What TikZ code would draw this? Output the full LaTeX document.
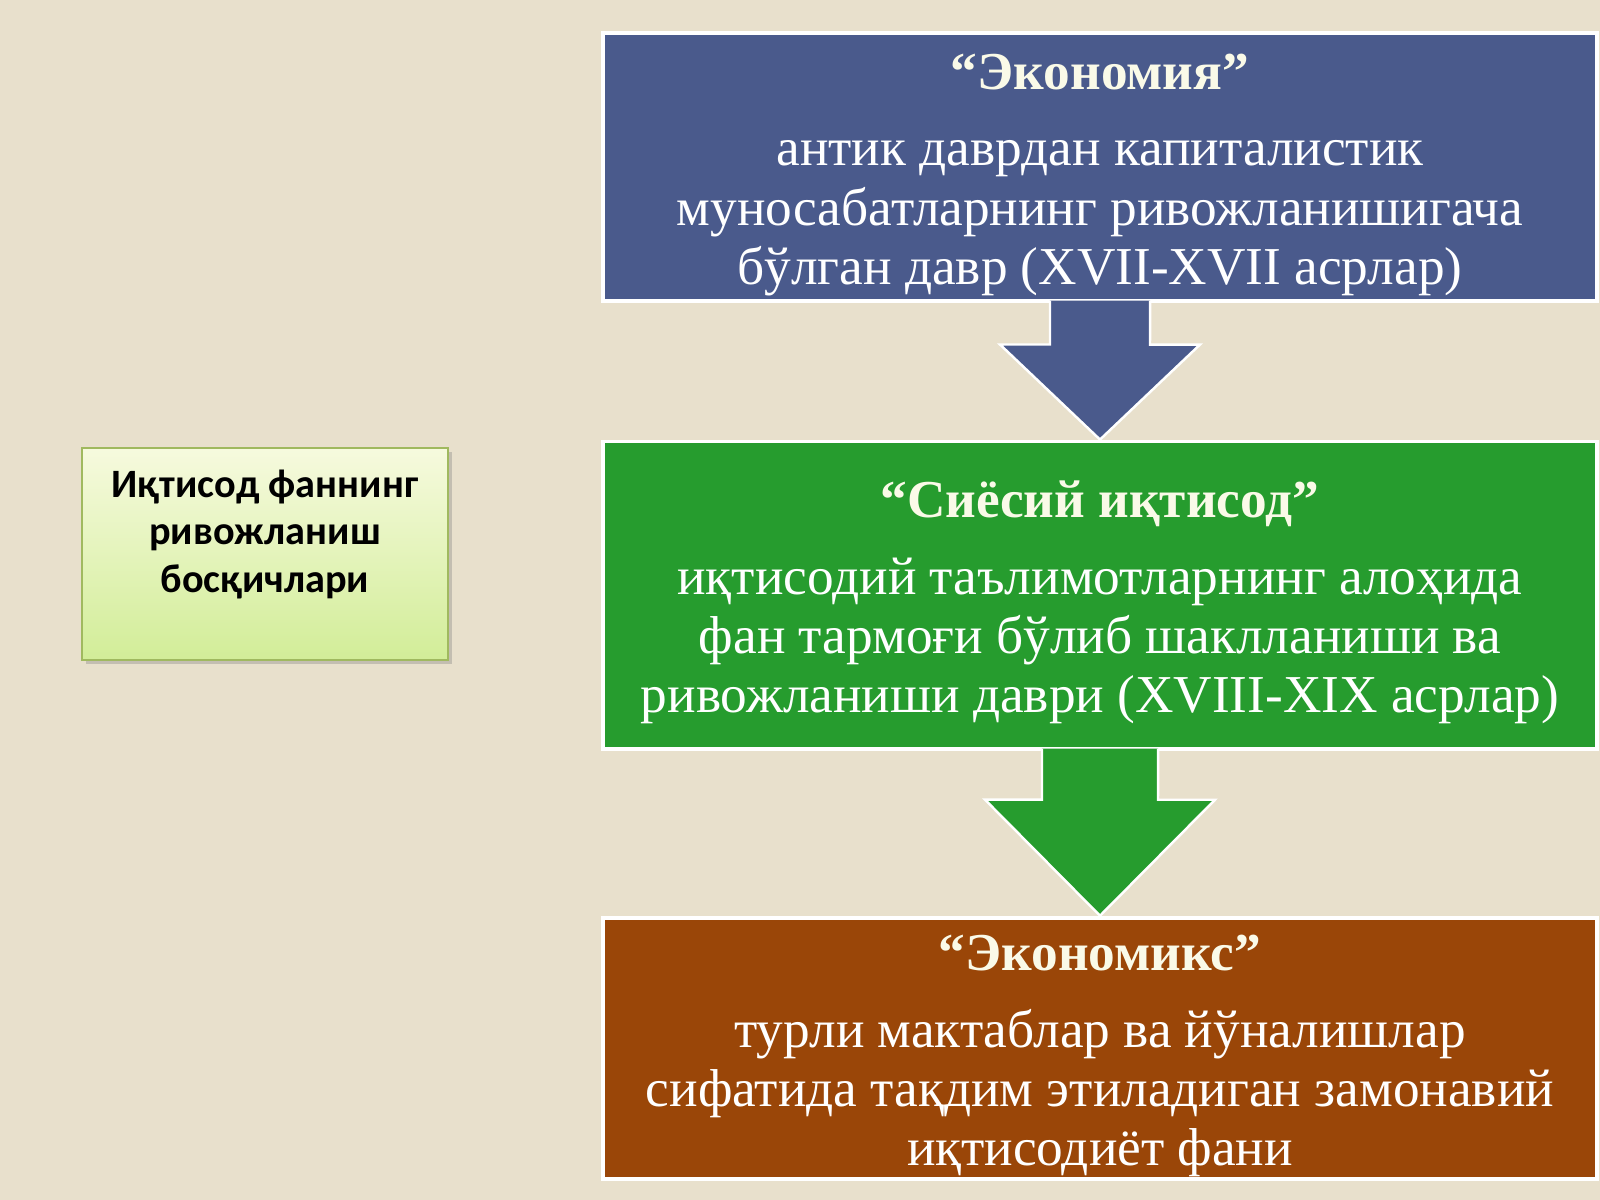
\documentclass[tikz,border=0pt]{standalone}
\usepackage{fontspec}
\setmainfont{Liberation Serif}
\newfontfamily\calibri{Carlito}
\usepackage{xcolor}
\usetikzlibrary{arrows,shapes,positioning,shadows}
\definecolor{paper}{RGB}{232,224,204}
\definecolor{ecoblue}{RGB}{74,90,140}
\definecolor{ecogreen}{RGB}{38,156,46}
\definecolor{ecobrown}{RGB}{154,70,8}
\definecolor{titlecream}{RGB}{250,250,232}
\definecolor{leafedge}{RGB}{160,185,95}
\definecolor{leafhi}{RGB}{246,250,222}
\definecolor{leaflo}{RGB}{210,237,152}
\newcommand{\stagetitle}[1]{\rule{0pt}{14.5pt}{\bfseries\color{titlecream}#1}}

\begin{document}
\begin{tikzpicture}[x=0.01cm,y=-0.01cm,align=center,
					stage node/.style={draw=white,line width=1.1pt,minimum width=9.94cm,inner sep=0pt,
						text=white,font=\fontsize{15.15}{16.85}\selectfont},
					stage arrow/.style={fill=#1,draw=white,line width=0.7pt,line join=miter},
					left node/.style={draw=leafedge,line width=0.6pt,top color=leafhi,bottom color=leaflo,
						minimum width=3.66cm,minimum height=2.12cm,
						drop shadow={opacity=0.35,shadow xshift=0.04cm,shadow yshift=-0.04cm}}]
					
					\fill[paper] (0,0) rectangle (1600,1200);
					
					\node[stage node,fill=ecoblue,minimum height=2.67cm] (1) at (1100,167)
						{\stagetitle{“Экономия”}\\[5pt]
						антик даврдан капиталистик\\
						муносабатларнинг ривожланишигача\\
						бўлган давр (XVII-XVII асрлар)};
					\node[stage node,fill=ecogreen,minimum height=3.07cm] (2) [below=1.37cm of 1]
						{\stagetitle{“Сиёсий иқтисод”}\\[5pt]
						иқтисодий таълимотларнинг алоҳида\\
						фан тармоғи бўлиб шаклланиши ва\\
						ривожланиши даври (XVIII-XIX асрлар)};
					\node[stage node,fill=ecobrown,minimum height=2.61cm] (3) [below=1.65cm of 2]
						{\stagetitle{“Экономикс”}\\[5pt]
						турли мактаблар ва йўналишлар\\
						сифатида тақдим этиладиган замонавий\\
						иқтисодиёт фани};
					
					\node[left node] (0) at (265,554) {};
					\node[inner sep=0pt,font=\calibri\bfseries\fontsize{11.45}{13.6}\selectfont] (0a)
						[below=0.22cm of 0.north] {Иқтисод фаннинг\\ривожланиш\\босқичлари};
					
					\path[stage arrow=ecoblue] ([xshift=-0.5cm,yshift=0.02cm]1.south) -- ++(0,44) -- ++(-50,0)
						-- (2.north) -- ++(100,-95) -- ++(-50,0) -- ([xshift=0.5cm,yshift=0.02cm]1.south);
					\path[stage arrow=ecogreen] ([xshift=-0.58cm,yshift=0.02cm]2.south) -- ++(0,51) -- ++(-57,0)
						-- (3.north) -- ++(115,-116) -- ++(-57,0) -- ([xshift=0.58cm,yshift=0.02cm]2.south);
					
\end{tikzpicture}
\end{document}
